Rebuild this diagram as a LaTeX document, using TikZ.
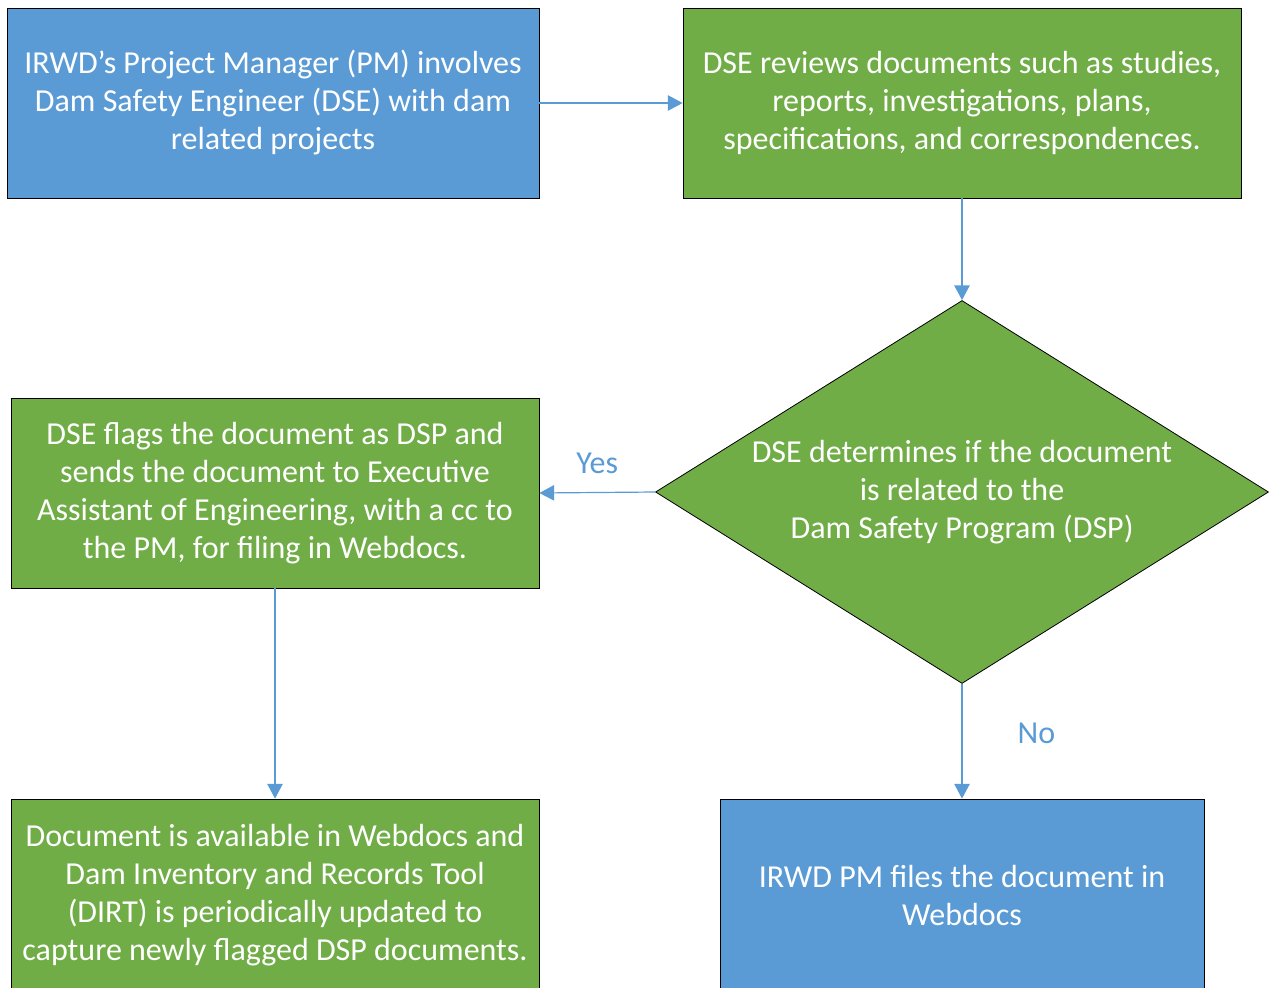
\documentclass[tikz,border=0pt]{standalone}
\usepackage{fontspec}
\setmainfont{Carlito}
\usetikzlibrary{positioning,arrows.meta,shapes.geometric}
\definecolor{boxblue}{HTML}{5B9BD5}
\definecolor{boxgreen}{HTML}{70AD47}

\begin{document}
\begin{tikzpicture}[x=0.75pt,y=-0.75pt,
  box/.style={rectangle,draw=black,line width=0.6pt,text=white,align=center,
    inner sep=0pt,font=\fontsize{24}{28.5}\selectfont},
  bluebox/.style={box,fill=boxblue},
  greenbox/.style={box,fill=boxgreen},
  decision/.style={diamond,draw=black,line width=0.6pt,fill=boxgreen,inner sep=0pt,
    minimum width=459.75pt,minimum height=287.25pt},
  flow/.style={draw=boxblue,line width=0.9pt,-{Triangle[length=11pt,width=11.5pt]}},
  answer/.style={text=boxblue,font=\fontsize{24}{28.5}\selectfont}]
\useasboundingbox (0,0) rectangle (1270,988);
% top row
\node[bluebox,minimum width=399pt,minimum height=142.5pt] (pm) at (273,103)
  {IRWD’s Project Manager (PM) involves\\Dam Safety Engineer (DSE) with dam\\related projects};
\node[greenbox,minimum width=418.5pt,minimum height=142.5pt] (review) at (962,103)
  {DSE reviews documents such as studies,\\reports, investigations, plans,\\specifications, and correspondences.};
% decision
\node[decision] (dec) at (962,492) {};
\node[text=white,align=center,font=\fontsize{24}{28.5}\selectfont] (dectext) at (dec.center)
  {DSE determines if the document\\is related to the\\Dam Safety Program (DSP)};
\node[greenbox,minimum width=396pt,minimum height=142.5pt] (flag) at (275,493)
  {DSE flags the document as DSP and\\sends the document to Executive\\Assistant of Engineering, with a cc to\\the PM, for filing in Webdocs.};
% bottom row
\node[greenbox,minimum width=396pt,minimum height=144pt] (dirt) at (275,895)
  {Document is available in Webdocs and\\Dam Inventory and Records Tool\\(DIRT) is periodically updated to\\capture newly flagged DSP documents.};
\node[bluebox,minimum width=363pt,minimum height=144pt] (files) at (962,895)
  {IRWD PM files the document in\\Webdocs};
% connectors
\draw[flow] (pm) -- (review);
\draw[flow] (review) -- (dec.north);
\draw[flow] (dec.west) -- (flag.east) node[answer,midway,above=10.5pt] {Yes};
\draw[flow] (flag) -- (dirt);
\draw[flow] (dec.south) -- (files.north) node[answer,midway,right=38pt,yshift=6pt] {No};
\end{tikzpicture}
\end{document}
